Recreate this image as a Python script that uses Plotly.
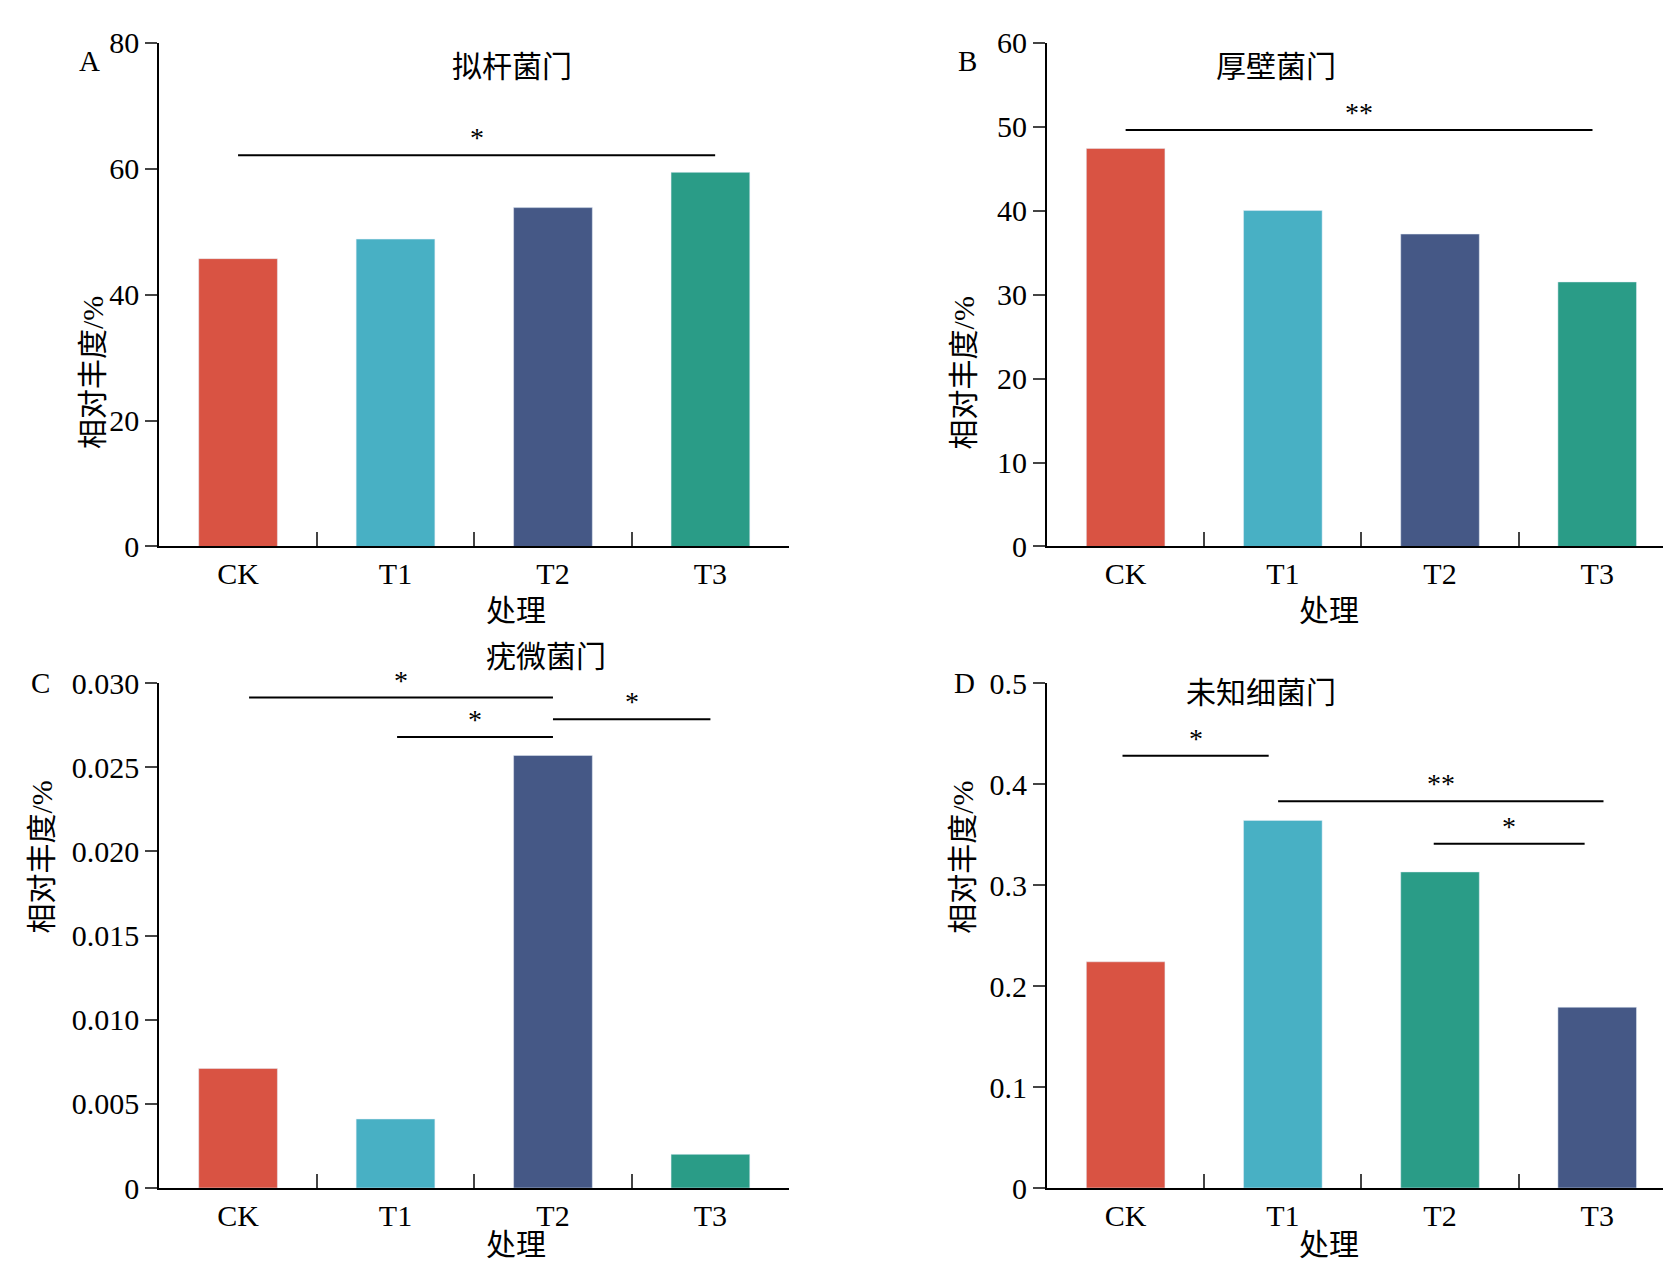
import plotly.graph_objects as go
from plotly.subplots import make_subplots

categories = ["CK", "T1", "T2", "T3"]
titles = ["拟杆菌门", "厚壁菌门", "疣微菌门", "未知细菌门"]
letters = ["A", "B", "C", "D"]

vals_a = [45.7, 48.8, 53.8, 59.4]
vals_b = [47.4, 40.0, 37.2, 31.5]
vals_c = [0.0071, 0.0041, 0.0257, 0.0020]
vals_d = [0.224, 0.364, 0.313, 0.179]

RED, CYAN, NAVY, TEAL = "#D95343", "#48B0C4", "#455886", "#2A9C87"
colors = [[RED, CYAN, NAVY, TEAL], [RED, CYAN, NAVY, TEAL],
          [RED, CYAN, NAVY, TEAL], [RED, CYAN, TEAL, NAVY]]

ytick_a = [0, 20, 40, 60, 80]
ytick_b = [0, 10, 20, 30, 40, 50, 60]
ytick_c = [0, 0.005, 0.010, 0.015, 0.020, 0.025, 0.030]
ytick_d = [0, 0.1, 0.2, 0.3, 0.4, 0.5]
ytext_c = ["0", "0.005", "0.010", "0.015", "0.020", "0.025", "0.030"]
ytext_d = ["0", "0.1", "0.2", "0.3", "0.4", "0.5"]

# significance brackets: (x0, x1, y, label)
sig = [
    [(0.0, 3.03, 62.1, "*")],
    [(0.0, 2.97, 49.6, "**")],
    [(0.07, 2.0, 0.02914, "*"), (1.01, 2.0, 0.0268, "*"), (2.0, 3.0, 0.02785, "*")],
    [(-0.02, 0.91, 0.428, "*"), (0.97, 3.04, 0.383, "**"), (1.96, 2.92, 0.341, "*")],
]

FONT = "Liberation Serif, Times New Roman, Noto Sans CJK SC"
W, H = 1568, 1210
xdom = [(142 / W, 733 / W), (975 / W, 1565 / W)]
ydom = [(1 - 504 / H, 1 - 17 / H), (1 - 1124 / H, 1 - 636 / H)]

fig = make_subplots(rows=2, cols=2)
data = [vals_a, vals_b, vals_c, vals_d]
yticks = [(ytick_a, [str(v) for v in ytick_a], [0, 80]),
          (ytick_b, [str(v) for v in ytick_b], [0, 60]),
          (ytick_c, ytext_c, [0, 0.030]),
          (ytick_d, ytext_d, [0, 0.5])]

ann = []
for i in range(4):
    r, c = i // 2 + 1, i % 2 + 1
    fig.add_trace(go.Bar(x=categories, y=data[i], marker_color=colors[i],
                         width=0.5, showlegend=False), row=r, col=c)
    tv, tt, rng = yticks[i]
    fig.update_xaxes(domain=xdom[c - 1], tickson="boundaries", ticks="inside",
                     ticklen=14, tickwidth=2, showline=True, linecolor="black",
                     linewidth=2, range=[-0.5, 3.5], row=r, col=c)
    fig.update_yaxes(domain=ydom[r - 1], tickvals=tv, ticktext=tt, range=rng,
                     ticks="outside", ticklen=12, tickwidth=2, showline=True,
                     linecolor="black", linewidth=2, showgrid=False,
                     zeroline=False, row=r, col=c)
    xr = "x" if i == 0 else f"x{i + 1}"
    yr = "y" if i == 0 else f"y{i + 1}"
    for x0, x1, yv, lab in sig[i]:
        fig.add_shape(type="line", x0=x0, x1=x1, y0=yv, y1=yv, xref=xr, yref=yr,
                      line=dict(color="black", width=2))
        ann.append(dict(x=(x0 + x1) / 2, y=yv, xref=xr, yref=yr, text=lab,
                        showarrow=False, yanchor="bottom", font=dict(size=28)))

    y1d = ydom[r - 1][1]
    tx = {0: 415, 1: 1248, 2: 447, 3: 1248}[i] / W
    ty = {0: 22, 1: 22, 2: 610, 3: 645}[i]
    ann.append(dict(x=tx, y=1 - ty / H, xref="paper", yref="paper", text=titles[i],
                    showarrow=False, font=dict(size=30)))
    lx = {0: 65, 1: 900, 2: 20, 3: 898}[i] / W
    ann.append(dict(x=lx, y=y1d, xref="paper", yref="paper", text=letters[i],
                    showarrow=False, font=dict(size=29)))
    yx = {0: 62, 1: 897, 2: 14, 3: 895}[i] / W
    ann.append(dict(x=yx, y=1 - {1: 260, 2: 880}[r] / H, xref="paper", yref="paper",
                    text="相对丰度/%", textangle=-90, showarrow=False,
                    font=dict(size=30)))
    ann.append(dict(x=(447 if c == 1 else 1270) / W, y=1 - {1: 566, 2: 1196}[r] / H,
                    xref="paper", yref="paper", text="处理", showarrow=False,
                    font=dict(size=30)))

fig.update_layout(
    width=1671, height=1286, margin=dict(l=0, r=0, t=0, b=0),
    plot_bgcolor="white", paper_bgcolor="white",
    font=dict(family=FONT, size=30, color="black"),
    annotations=ann, bargap=0.5,
)

fig.write_html("out.html")
